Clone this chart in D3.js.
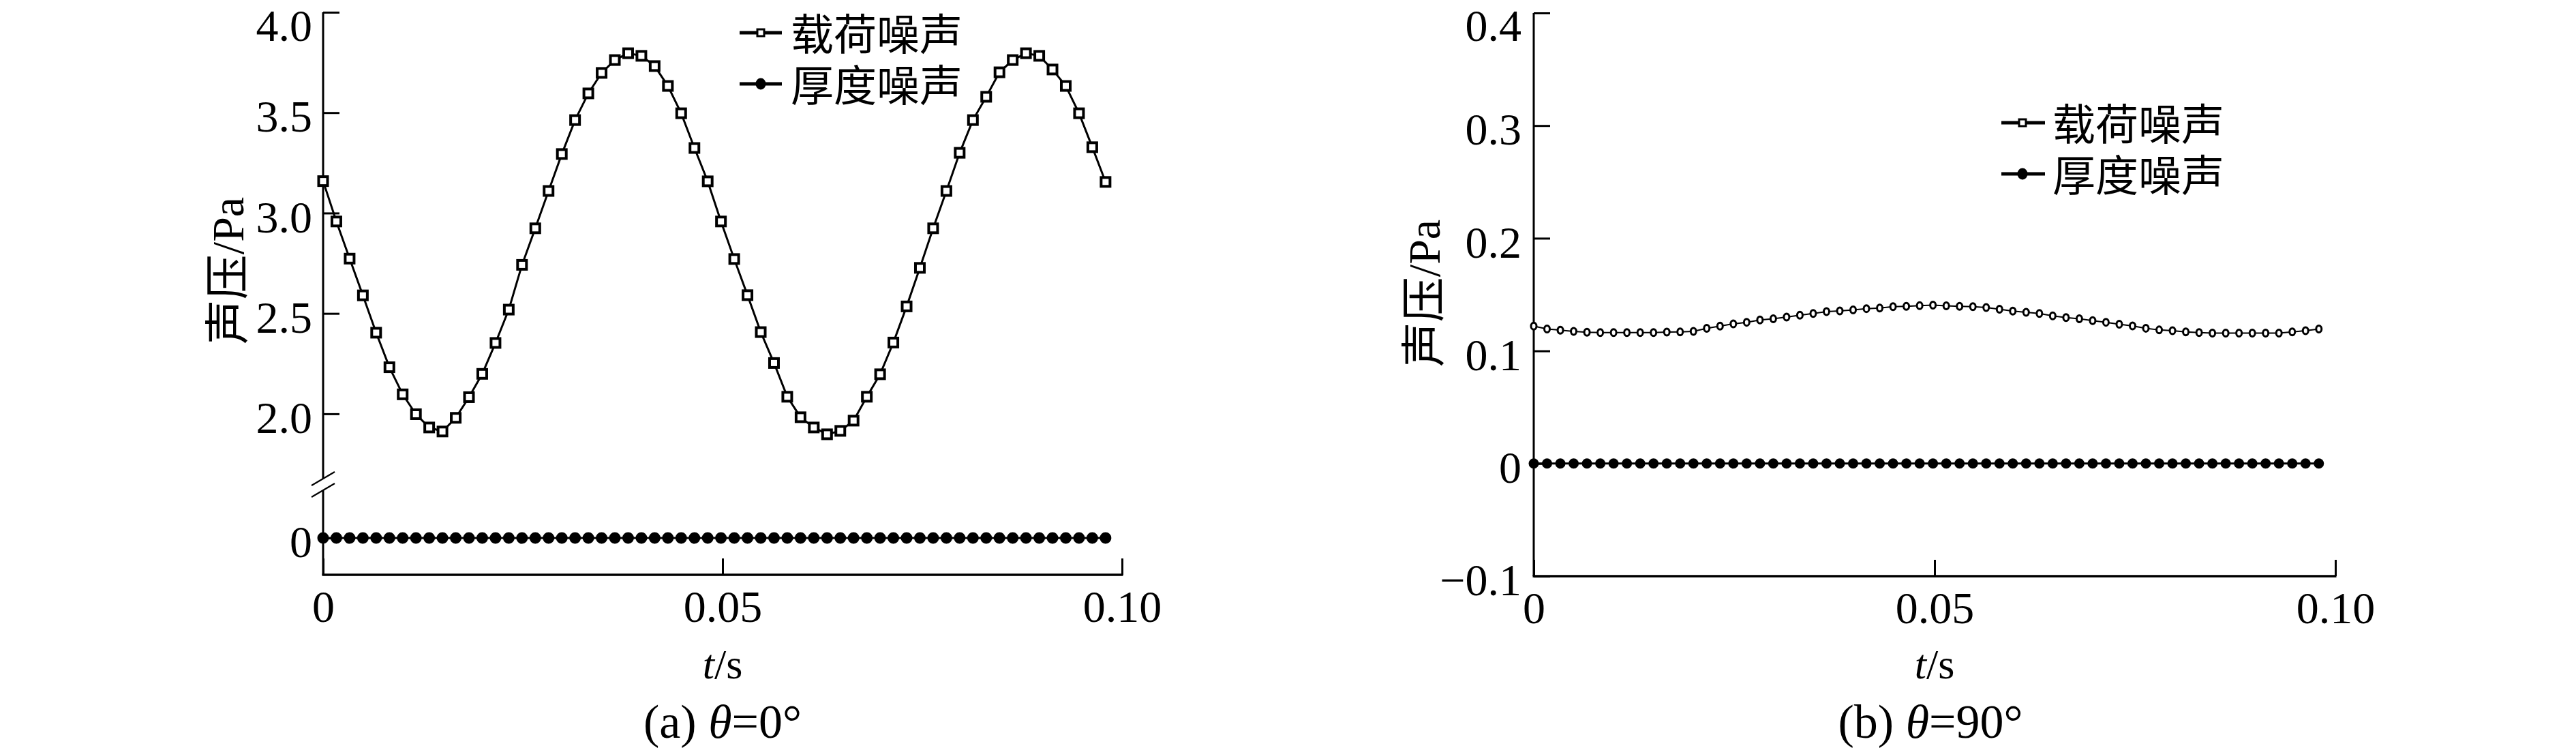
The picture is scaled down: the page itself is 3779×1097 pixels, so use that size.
<!DOCTYPE html>
<html><head><meta charset="utf-8">
<script src="https://cdn.jsdelivr.net/npm/d3@7"></script>
<style>
body{margin:0;background:#fff}
svg{display:block}
text{font-family:"Liberation Serif","Times New Roman","Noto Sans CJK SC",serif;fill:#000}
</style>
</head><body>
<svg id="chart" width="3779" height="1097"></svg>
<script>
// ---------------- data ----------------
const times = [0,0.00166,0.00332,0.00498,0.00664,0.0083,0.00996,0.01162,0.01328,0.01494,
0.0166,0.01826,0.01992,0.02158,0.02324,0.0249,0.02656,0.02822,0.02988,0.03154,
0.0332,0.03486,0.03652,0.03818,0.03984,0.0415,0.04316,0.04482,0.04648,0.04814,
0.0498,0.05146,0.05312,0.05478,0.05644,0.0581,0.05976,0.06142,0.06308,0.06474,
0.0664,0.06806,0.06972,0.07138,0.07304,0.0747,0.07636,0.07802,0.07968,0.08134,
0.083,0.08466,0.08632,0.08798,0.08964,0.0913,0.09296,0.09462,0.09628,0.09794];

const seriesNames = ["载荷噪声","厚度噪声"];

// (a) theta = 0 deg
const loadA = [3.159,2.958,2.773,2.590,2.404,2.232,2.097,1.998,1.932,1.912,
1.980,2.083,2.199,2.353,2.519,2.742,2.924,3.110,3.294,3.463,
3.596,3.698,3.762,3.796,3.783,3.732,3.633,3.497,3.324,3.158,
2.958,2.771,2.591,2.407,2.253,2.085,1.983,1.932,1.898,1.915,
1.966,2.085,2.197,2.355,2.535,2.727,2.924,3.110,3.300,3.463,
3.579,3.701,3.762,3.796,3.783,3.715,3.633,3.497,3.328,3.155];
const thickA = [0,0,0,0,0,0,0,0,0,0,0,0,0,0,0,0,0,0,0,0,
0,0,0,0,0,0,0,0,0,0,0,0,0,0,0,0,0,0,0,0,
0,0,0,0,0,0,0,0,0,0,0,0,0,0,0,0,0,0,0,0];

// (b) theta = 90 deg
const loadB = [0.1220,0.1194,0.1184,0.1173,0.1165,0.1163,0.1163,0.1163,0.1163,0.1163,
0.1167,0.1169,0.1173,0.1200,0.1220,0.1240,0.1254,0.1275,0.1285,0.1300,
0.1317,0.1332,0.1349,0.1355,0.1364,0.1375,0.1381,0.1392,0.1396,0.1402,
0.1406,0.1400,0.1396,0.1392,0.1385,0.1370,0.1353,0.1343,0.1332,0.1311,
0.1296,0.1285,0.1269,0.1254,0.1237,0.1222,0.1201,0.1186,0.1179,0.1169,
0.1163,0.1158,0.1158,0.1158,0.1158,0.1158,0.1158,0.1169,0.1179,0.1194];
const thickB = [0,0,0,0,0,0,0,0,0,0,0,0,0,0,0,0,0,0,0,0,
0,0,0,0,0,0,0,0,0,0,0,0,0,0,0,0,0,0,0,0,
0,0,0,0,0,0,0,0,0,0,0,0,0,0,0,0,0,0,0,0];

const xTicks = [0, 0.05, 0.10];
const xTickLabels = ["0", "0.05", "0.10"];
const yTicksA = [0, 2.0, 2.5, 3.0, 3.5, 4.0];
const yTickLabelsA = ["0", "2.0", "2.5", "3.0", "3.5", "4.0"];
const yTicksB = [-0.1, 0, 0.1, 0.2, 0.3, 0.4];
const yTickLabelsB = ["\u22120.1", "0", "0.1", "0.2", "0.3", "0.4"];
const yLabel = "声压/Pa";
const captions = [["(a) ", "θ", "=0°"], ["(b) ", "θ", "=90°"]];

// ---------------- drawing ----------------
const svg = d3.select("#chart");
const TICKFS = 66;

function drawPanel(cfg) {
  const g = svg.append("g");
  const x = d3.scaleLinear().domain([0, 0.1]).range(cfg.xr);
  const y = d3.scaleLinear().domain(cfg.yd).range(cfg.yr);

  // x axis
  const xa = g.append("g").attr("transform", `translate(0,${cfg.xAxisY})`)
    .call(d3.axisBottom(x).tickValues(xTicks).tickFormat((d, i) => xTickLabels[i])
      .tickSizeInner(-24).tickSizeOuter(0).tickPadding(22));
  xa.select(".domain").remove();
  xa.selectAll(".tick line").attr("stroke", "#000").attr("stroke-width", 3);
  xa.selectAll(".tick text").attr("font-size", TICKFS).attr("fill", "#000");
  g.append("line").attr("x1", x(0) - 1.5).attr("x2", x(0.1) + 1.5)
    .attr("y1", cfg.xAxisY).attr("y2", cfg.xAxisY).attr("stroke", "#000").attr("stroke-width", 3.5);

  // y axis
  const ya = g.append("g").attr("transform", `translate(${cfg.xr[0]},0)`)
    .call(d3.axisLeft(y).tickValues(cfg.yTicks).tickFormat((d, i) => cfg.yLabels[i])
      .tickSizeInner(-24).tickSizeOuter(0).tickPadding(cfg.yPad));
  ya.select(".domain").remove();
  ya.selectAll(".tick line").attr("stroke", "#000").attr("stroke-width", 3);
  ya.selectAll(".tick text").attr("font-size", TICKFS).attr("dy", "0.42em").attr("fill", "#000");
  // keep the topmost label fully inside the picture
  ya.selectAll(".tick text").each(function () {
    const r = this.getBoundingClientRect();
    const top = r.top - svg.node().getBoundingClientRect().top;
    if (top < 1) d3.select(this).attr("y", 1 - top);
  });
  cfg.axisSegs.forEach(s => {
    g.append("line").attr("x1", cfg.xr[0]).attr("x2", cfg.xr[0])
      .attr("y1", y(s[0])).attr("y2", y(s[1])).attr("stroke", "#000").attr("stroke-width", 3);
  });
  if (cfg.breakVals) {
    cfg.breakVals.forEach(v => {
      const yy = y(v);
      g.append("line").attr("x1", cfg.xr[0] - 17).attr("x2", cfg.xr[0] + 17)
        .attr("y1", yy + 10).attr("y2", yy - 10).attr("stroke", "#000").attr("stroke-width", 2.2);
    });
  }

  // y label
  g.append("text").attr("transform", `translate(${cfg.yLabelX},${cfg.yLabelY}) rotate(-90)`)
    .attr("text-anchor", "middle").attr("font-size", 66).text(yLabel);

  // x label
  const xl = g.append("text").attr("x", (cfg.xr[0] + cfg.xr[1]) / 2).attr("y", 995)
    .attr("text-anchor", "middle").attr("font-size", 62);
  xl.append("tspan").attr("font-style", "italic").text("t");
  xl.append("tspan").text("/s");

  // caption
  const cap = g.append("text").attr("x", cfg.capX).attr("y", 1082)
    .attr("text-anchor", "middle").attr("font-size", 70);
  cap.append("tspan").text(cfg.caption[0]);
  cap.append("tspan").attr("font-style", "italic").text(cfg.caption[1]);
  cap.append("tspan").text(cfg.caption[2]);

  const line = d3.line().x((d, i) => x(times[i])).y(d => y(d));

  // thickness noise
  g.append("path").datum(cfg.thick).attr("d", line).attr("fill", "none")
    .attr("stroke", "#000").attr("stroke-width", 3);
  g.selectAll(".dot").data(cfg.thick).enter().append("circle")
    .attr("cx", (d, i) => x(times[i])).attr("cy", d => y(d)).attr("r", cfg.dotR).attr("fill", "#000");

  // load noise
  g.append("path").datum(cfg.load).attr("d", line).attr("fill", "none")
    .attr("stroke", "#000").attr("stroke-width", cfg.loadLineW);
  if (cfg.loadMarker === "square") {
    const s = 13;
    g.selectAll(".sq").data(cfg.load).enter().append("rect")
      .attr("x", (d, i) => x(times[i]) - s / 2).attr("y", d => y(d) - s / 2)
      .attr("width", s).attr("height", s).attr("fill", "#fff").attr("stroke", "#000").attr("stroke-width", 4);
  } else {
    g.selectAll(".oc").data(cfg.load).enter().append("ellipse")
      .attr("cx", (d, i) => x(times[i])).attr("cy", d => y(d)).attr("rx", 4).attr("ry", 5)
      .attr("fill", "#fff").attr("stroke", "#000").attr("stroke-width", 3);
  }

  // legend
  const lg = g.append("g");
  const [lx0, lx1, mx, tx] = cfg.legX;
  cfg.legY.forEach((ly, k) => {
    lg.append("line").attr("x1", lx0).attr("x2", lx1).attr("y1", ly).attr("y2", ly)
      .attr("stroke", "#000").attr("stroke-width", 5);
    if (k === 0) {
      lg.append("rect").attr("x", mx - 5).attr("y", ly - 5).attr("width", 10).attr("height", 10)
        .attr("fill", "#fff").attr("stroke", "#000").attr("stroke-width", 3);
    } else {
      lg.append("ellipse").attr("cx", mx).attr("cy", ly).attr("rx", 7.5).attr("ry", 8.5).attr("fill", "#000");
    }
    lg.append("text").attr("x", tx).attr("y", ly + 4).attr("dominant-baseline", "central")
      .attr("font-size", 63).attr("font-family", "Noto Sans CJK SC").text(seriesNames[k]);
  });
}

drawPanel({
  xr: [474, 1646], xAxisY: 843,
  yd: [-0.2, 0.26, 1.677, 4.0], yr: [843, 719, 702, 18],
  yTicks: yTicksA, yLabels: yTickLabelsA, yPad: 16,
  axisSegs: [[4.0, 1.677], [0.26, -0.2]], breakVals: [1.677, 0.26],
  yLabelX: 357, yLabelY: 397, capX: 1060, caption: captions[0],
  load: loadA, thick: thickA, loadMarker: "square", loadLineW: 3, dotR: 8.5,
  legX: [1085, 1147, 1116, 1160], legY: [48, 123]
});

drawPanel({
  xr: [2250, 3426], xAxisY: 845,
  yd: [-0.1, 0.4], yr: [845, 19],
  yTicks: yTicksB, yLabels: yTickLabelsB, yPad: 18,
  axisSegs: [[0.4, -0.1]], breakVals: null,
  yLabelX: 2112, yLabelY: 430, capX: 2832, caption: captions[1],
  load: loadB, thick: thickB, loadMarker: "circle", loadLineW: 2, dotR: 7.5,
  legX: [2936, 3000, 2967, 3011], legY: [180, 255]
});
</script>
</body></html>
